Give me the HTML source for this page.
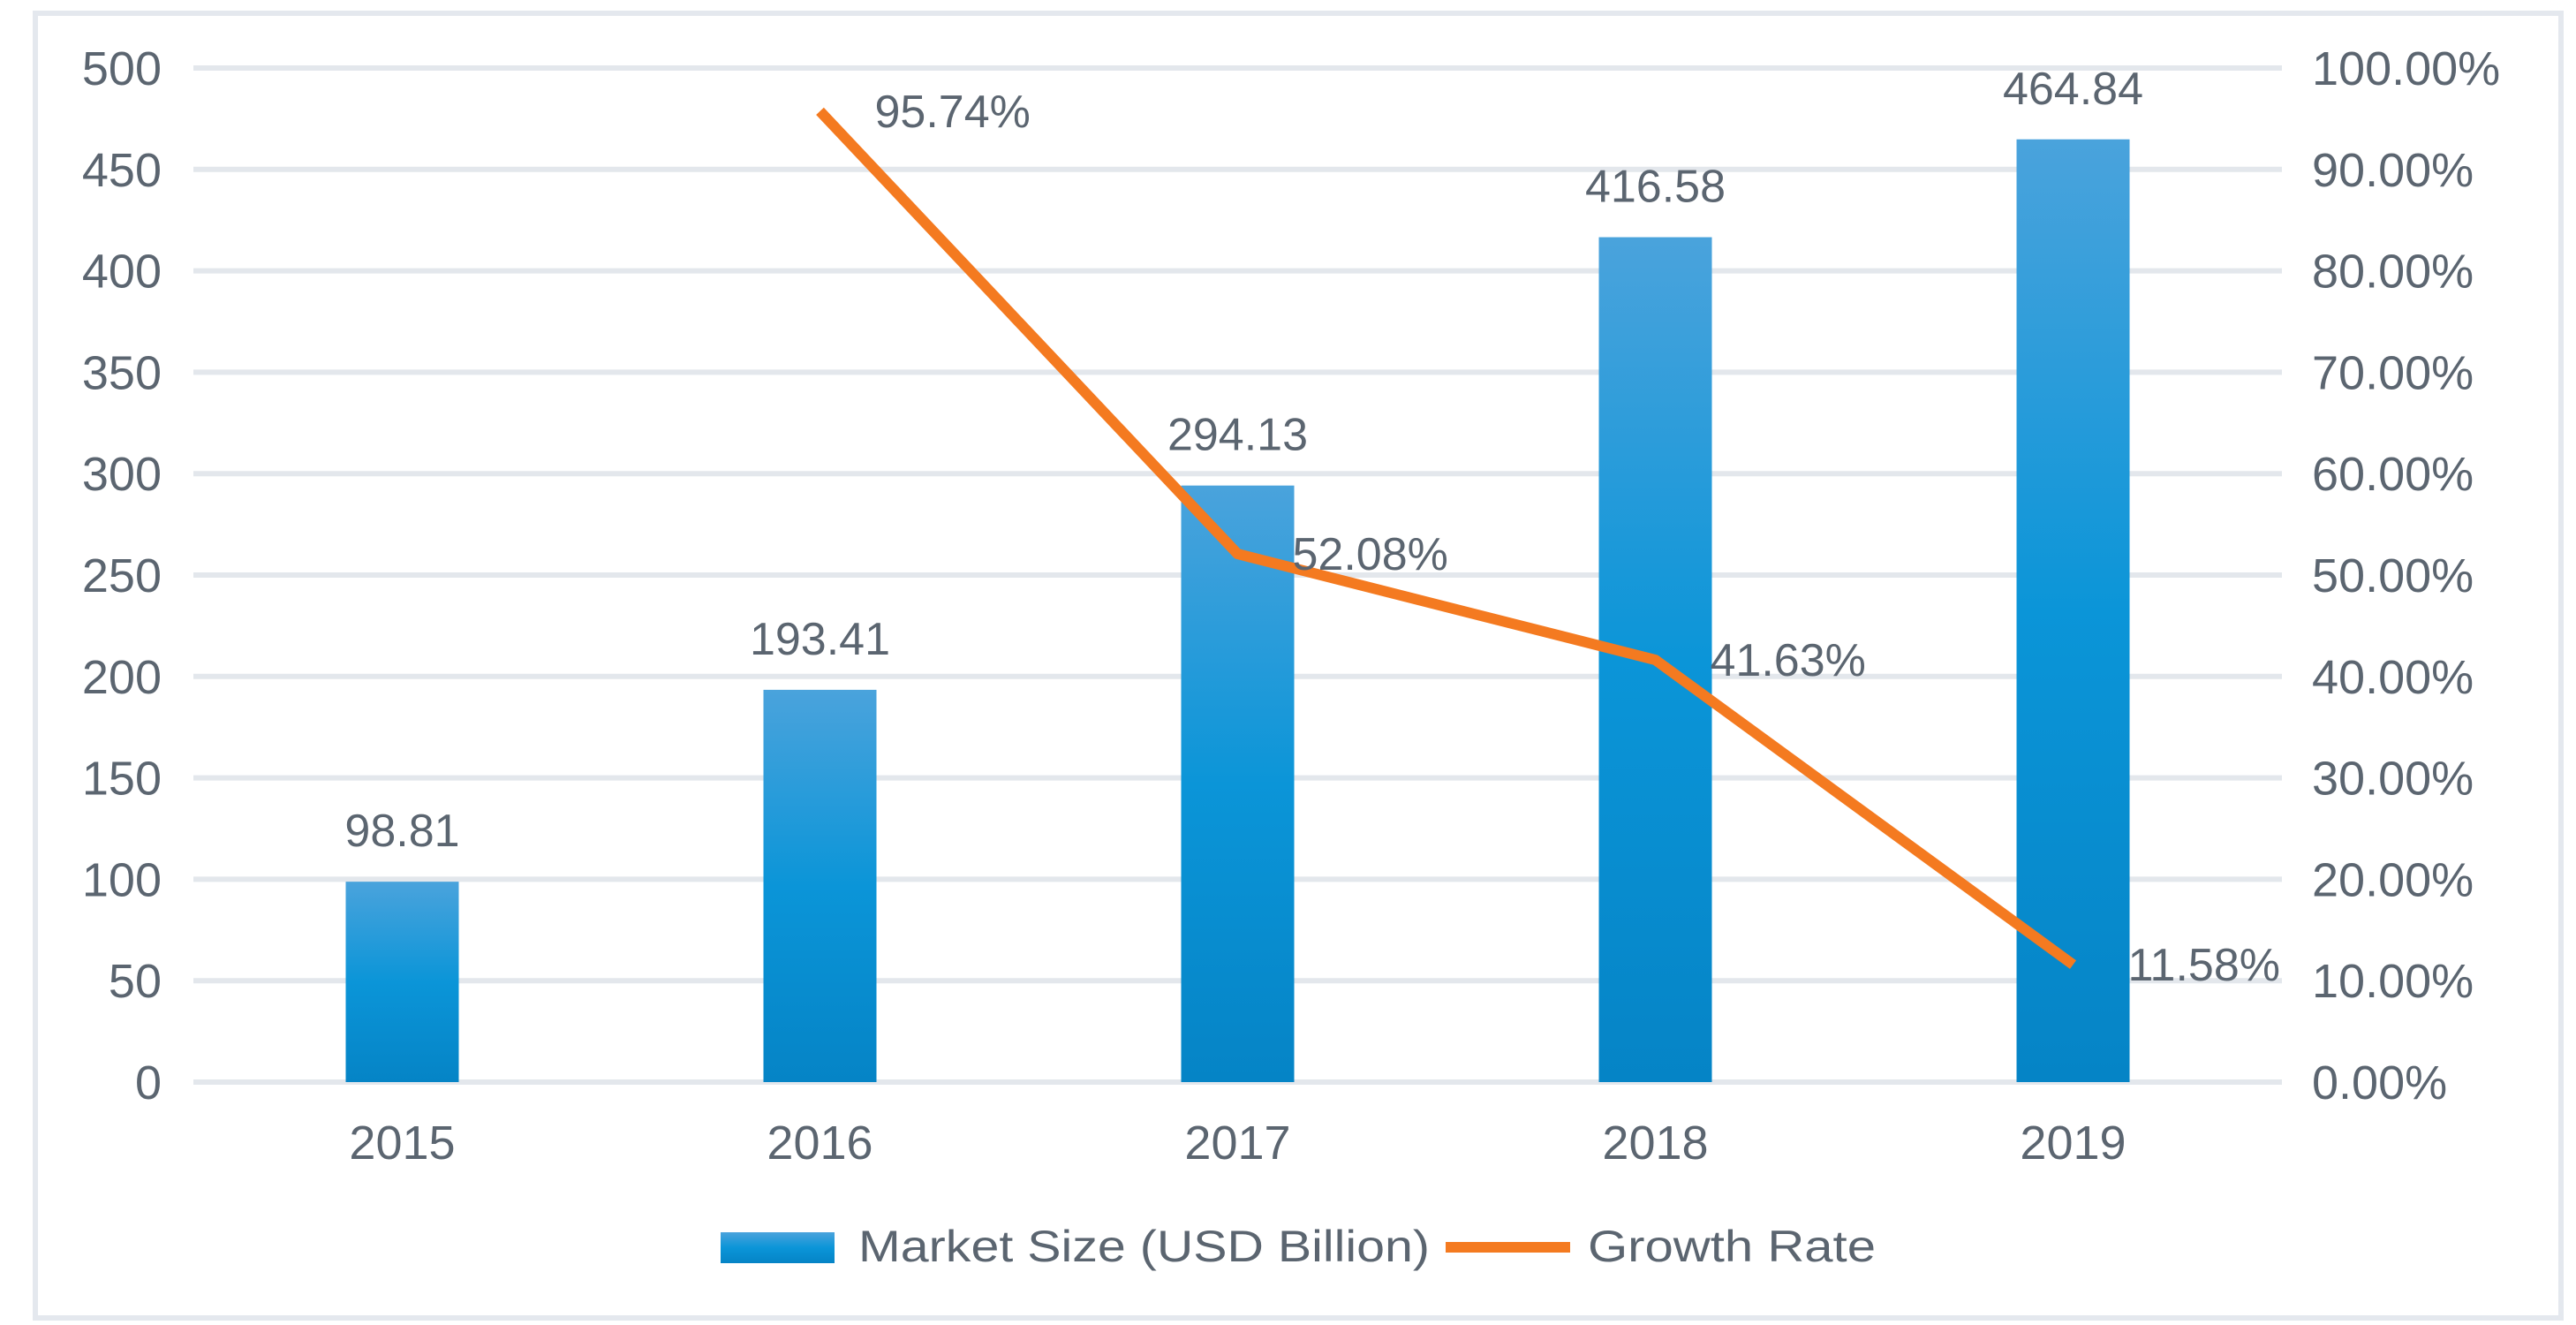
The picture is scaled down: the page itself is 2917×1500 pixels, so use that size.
<!DOCTYPE html>
<html><head><meta charset="utf-8"><style>
html,body{margin:0;padding:0;background:#fff;}
svg{display:block;font-family:"Liberation Sans",Arial,sans-serif;}
</style></head><body>
<svg id="chart" width="2917" height="1500" viewBox="0 0 2917 1500" xmlns="http://www.w3.org/2000/svg">
<defs>
<linearGradient id="barGrad" x1="0" y1="0" x2="0" y2="1">
<stop offset="0" stop-color="#4aa3dc"/>
<stop offset="0.5" stop-color="#0b95d8"/>
<stop offset="1" stop-color="#0584c6"/>
</linearGradient>
</defs>
<rect x="40" y="15" width="2860" height="1477" fill="#fff" stroke="#e4e8ee" stroke-width="6"/>
<g id="grid"></g><g id="bars"></g><g id="line"></g><g id="labels"></g>
<g>
<rect x="816" y="1395" width="129" height="35" fill="url(#barGrad)"/>
<text x="972" y="1428" font-size="50" fill="#5b6570" textLength="647" lengthAdjust="spacingAndGlyphs">Market Size (USD Billion)</text>
<line x1="1637" y1="1412" x2="1778" y2="1412" stroke="#f47a20" stroke-width="12"/>
<text x="1798" y="1428" font-size="50" fill="#5b6570" textLength="326" lengthAdjust="spacingAndGlyphs">Growth Rate</text>
</g>
</svg>
<script>
const categories = ["2015","2016","2017","2018","2019"];
const marketSize = [98.81,193.41,294.13,416.58,464.84];
const growthRate = [null,95.74,52.08,41.63,11.58];
const leftTicks = [0,50,100,150,200,250,300,350,400,450,500];
const rightTicks = [0,10,20,30,40,50,60,70,80,90,100];

const NS="http://www.w3.org/2000/svg";
const plotL=219, plotR=2584, y0=1225, yTop=77;
const yL=v=>y0-(v/500)*(y0-yTop);
const yR=v=>y0-(v/100)*(y0-yTop);
const band=(plotR-plotL)/categories.length;
const xC=i=>plotL+band*(i+0.5);
const barW=128;
function mk(tag,attrs,parent,txt){const e=document.createElementNS(NS,tag);for(const k in attrs)e.setAttribute(k,attrs[k]);if(txt!==undefined)e.textContent=txt;document.getElementById(parent).appendChild(e);return e;}
const tc="#5b6570";
leftTicks.forEach((t,i)=>{
  const g=mk('line',{x1:plotL,x2:plotR,y1:yL(t),y2:yL(t),stroke:'#e3e7ec','stroke-width':6},'grid');
  
  
  const l=mk('text',{x:183,y:yL(t)+19,'font-size':54,fill:tc,'text-anchor':'end'},'labels',String(t));
  
  
});
rightTicks.forEach(t=>{
  const l=mk('text',{x:2618,y:yR(t)+19,'font-size':54,fill:tc},'labels',t.toFixed(2)+'%');
  
  
});
categories.forEach((c,i)=>{
  const b=mk('rect',{x:xC(i)-barW/2,y:yL(marketSize[i]),width:barW,height:y0-yL(marketSize[i]),fill:'url(#barGrad)'},'bars');
  
  
  const v=mk('text',{x:xC(i),y:Math.max(yL(marketSize[i])-40,118),'font-size':52,fill:tc,'text-anchor':'middle'},'labels',marketSize[i].toFixed(2));
  
  
  const x=mk('text',{x:xC(i),y:1312,'font-size':54,fill:tc,'text-anchor':'middle'},'labels',c);
  
  
});
const pts=[];
growthRate.forEach((g,i)=>{ if(g!==null) pts.push([xC(i),yR(g),g]); });
const pl=mk('polyline',{points:pts.map(p=>p[0]+','+p[1]).join(' '),fill:'none',stroke:'#f47a20','stroke-width':12,'stroke-linejoin':'round'},'line');


pts.forEach(p=>{
  const t=mk('text',{x:p[0]+62,y:p[1]+18,'font-size':52,fill:tc},'labels',p[2].toFixed(2)+'%');
  
  
});
</script>
</body></html>
